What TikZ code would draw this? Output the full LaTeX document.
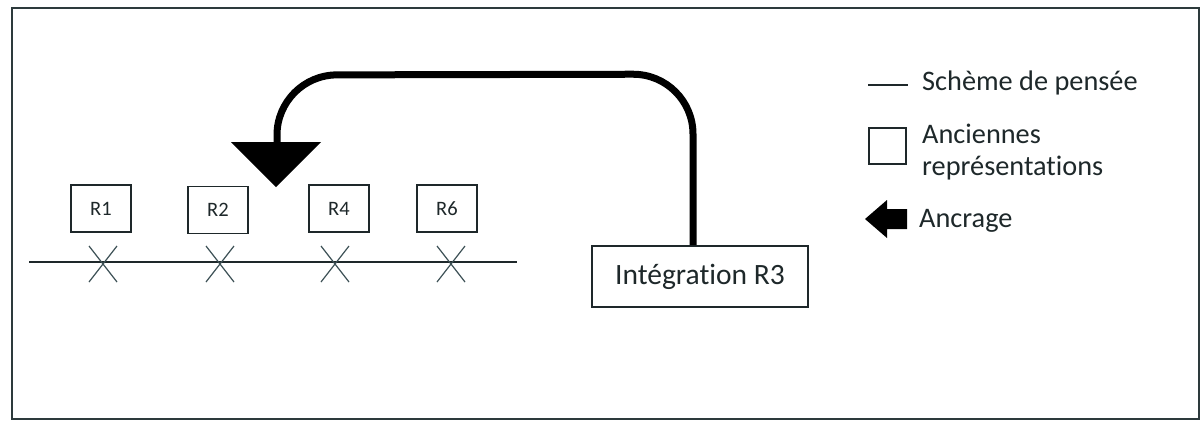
\documentclass[tikz,border=0pt]{standalone}
\usepackage{fontspec}
\setmainfont{Carlito}[Ligatures=NoCommon]
\definecolor{ink}{RGB}{30,40,42}
\definecolor{frame}{RGB}{45,58,60}
\definecolor{crossc}{RGB}{60,80,85}
\begin{document}
\begin{tikzpicture}[x=1pt,y=-1pt,
  rbox/.style={draw=ink,line width=1.8pt,minimum width=60pt,minimum height=47pt,inner sep=0pt,text=ink,font=\fontsize{20.5}{24}\selectfont},
  ibox/.style={draw=ink,line width=1.8pt,minimum width=216pt,minimum height=61pt,inner sep=0pt,text=ink,font=\fontsize{29.5}{34}\selectfont},
  legtext/.style={anchor=west,inner sep=0pt,text=ink,font=\fontsize{28.3}{32}\selectfont,align=left},
  crossline/.style={draw=crossc,line width=1.2pt},
  flow/.style={line width=7pt,rounded corners=60pt}]
\useasboundingbox (0,0) rectangle (1204,421);
\fill[white] (0,0) rectangle (1204,421);
% frame
\draw[frame,line width=1.6pt] (12,8) rectangle (1199,419);
% scheme line
\coordinate (ls) at (29,262);
\coordinate (le) at (517,262);
\draw[ink,line width=1.5pt] (ls) -- (le);
% crosses
\foreach \cx/\nm in {103/c1,220/c2,335/c3,451/c4}{
  \coordinate (\nm) at (\cx,264);
  \draw[crossline] ([shift={(-14,-18)}]\nm) -- ([shift={(14,18)}]\nm);
  \draw[crossline] ([shift={(14,-18)}]\nm) -- ([shift={(-14,18)}]\nm);
}
% representation boxes
\node[rbox] (r1) at (101,208.5) {R1};
\node[rbox] (r2) at (218,210) {R2};
\node[rbox] (r4) at (339,208.5) {R4};
\node[rbox] (r6) at (447,208.5) {R6};
% integration box
\node[ibox] (int) at (700,276.5) {Intégration R3};
% anchoring arrow
\coordinate (ah) at (277,142);
\draw[flow] ([xshift=-7pt]int.north) -- ++(0,-171) -- (ah |- 0,75) -- (ah);
\fill (231,142) -- (321,142) -- (276,187) -- cycle;
% legend
\coordinate (l1a) at (868,85);
\coordinate (l1b) at (908,85);
\draw[ink,line width=1.5pt] (l1a) -- (l1b);
\node[legtext] (t1) at (922,83) {Schème de pensée};
\draw[ink,line width=1.8pt] (869,128) rectangle (906,164);
\node[legtext] (t2) at (922,152) {Anciennes\\représentations};
\fill (865,219) -- (887,200) -- (887,209) -- (907,209) -- (907,229) -- (887,229) -- (887,238) -- cycle;
\node[legtext] (t3) at (919,221) {Ancrage};
\end{tikzpicture}
\end{document}
